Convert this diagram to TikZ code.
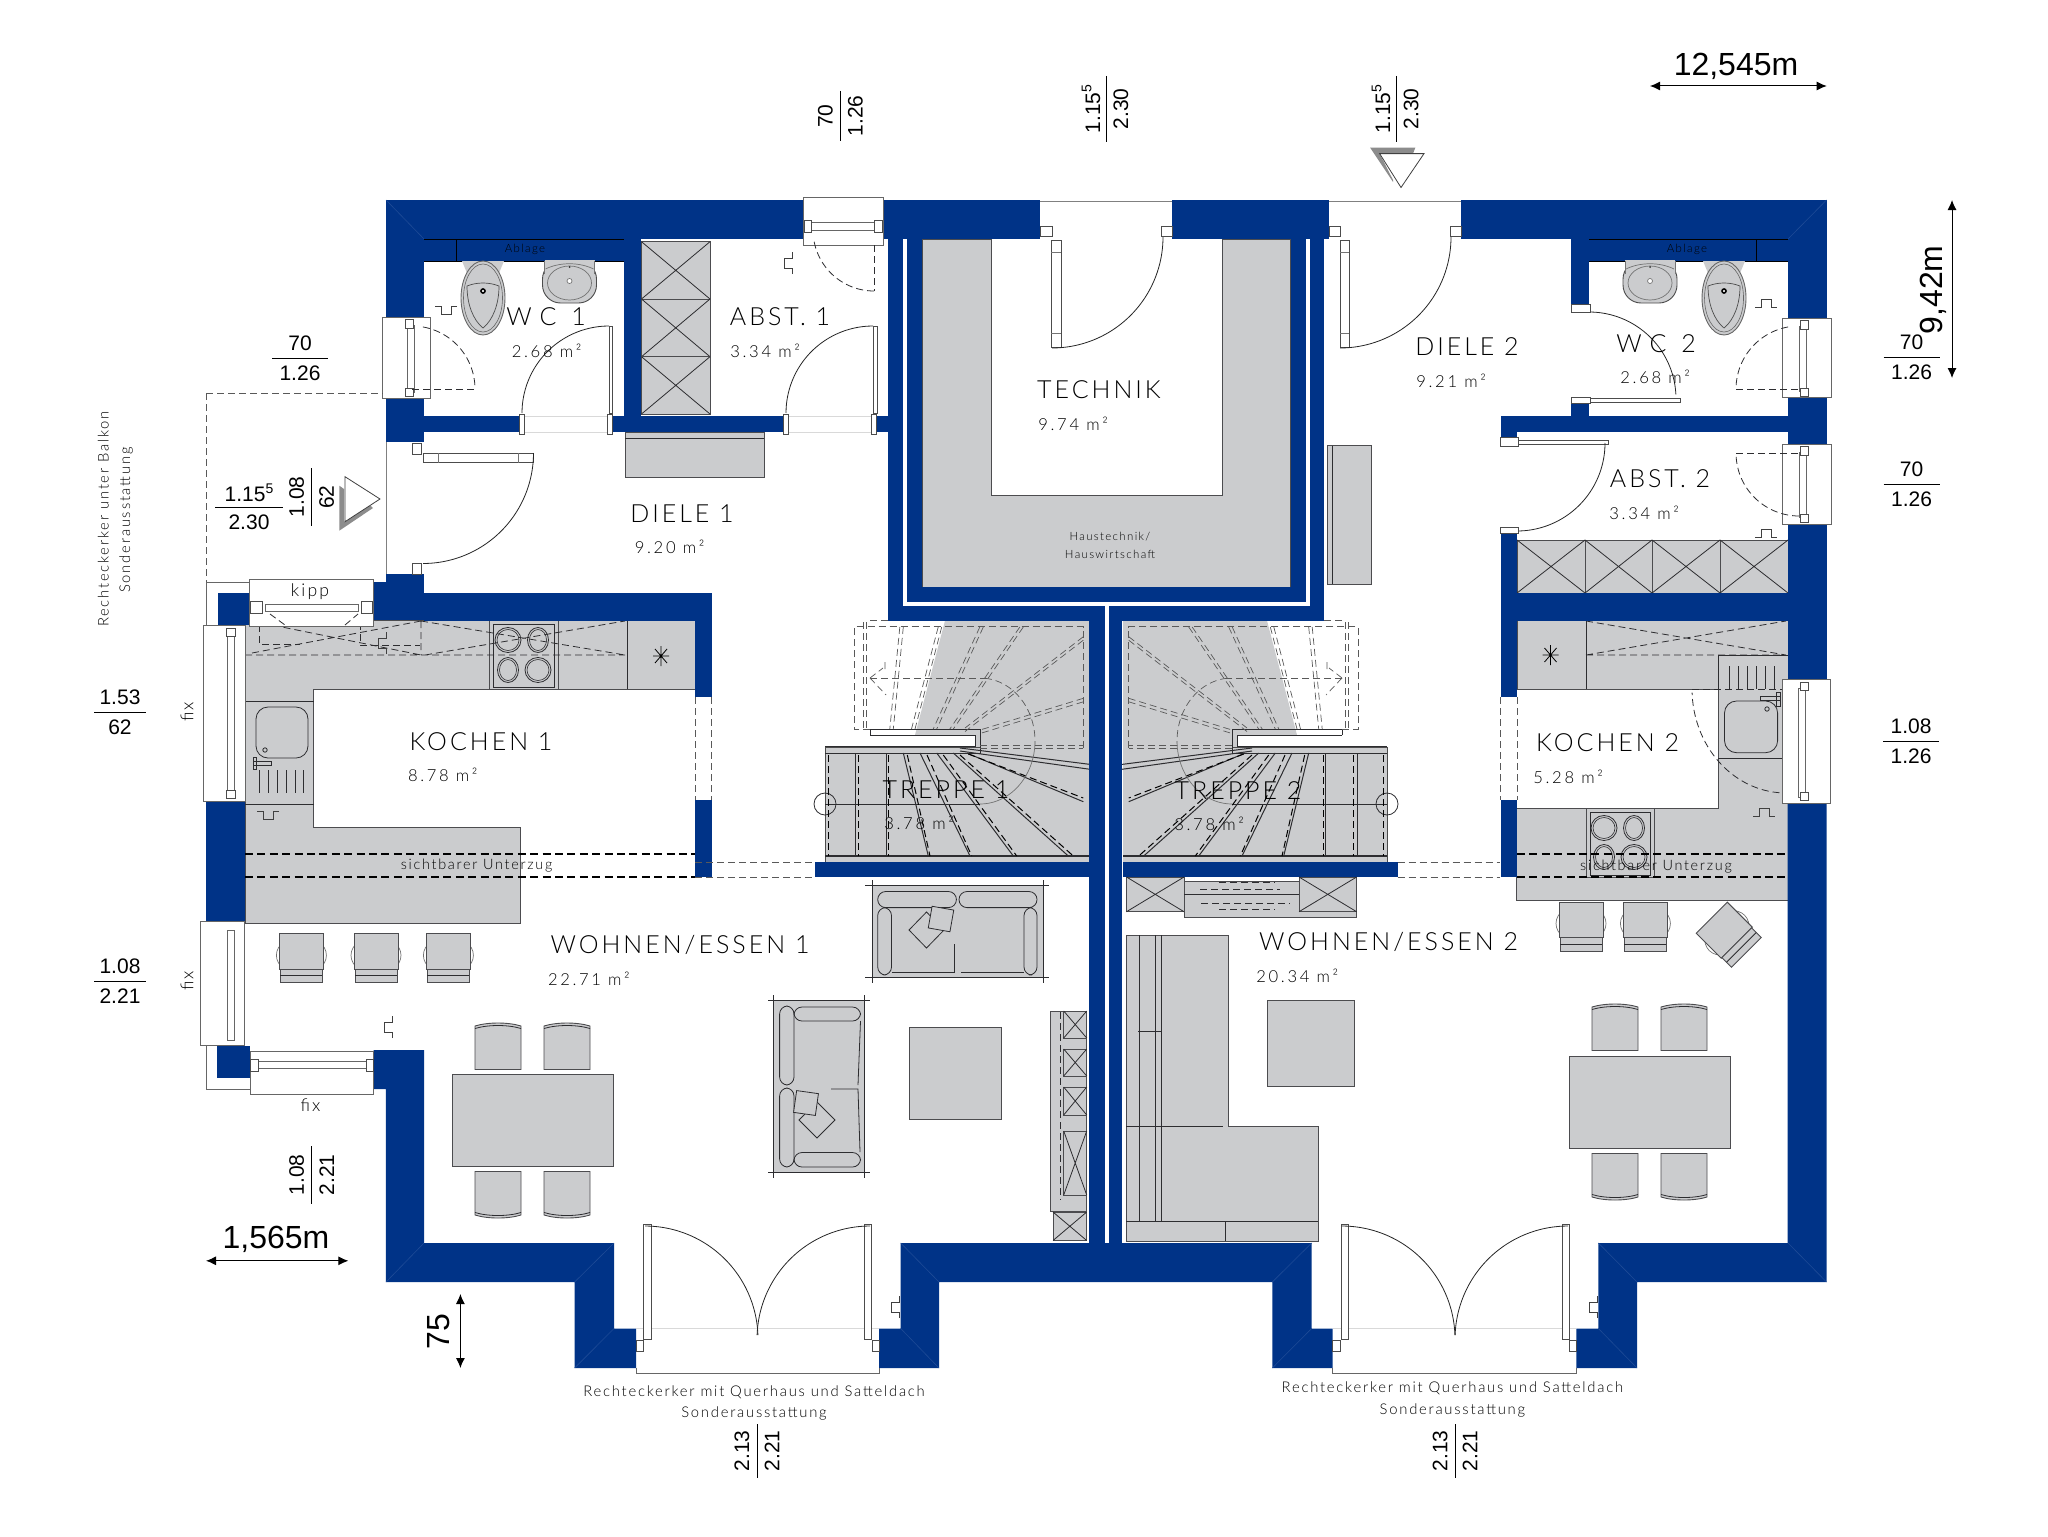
\documentclass[tikz,border=0pt]{standalone}
\usepackage{fontspec}
\usetikzlibrary{arrows.meta}
\setmainfont{Liberation Sans}
\newfontfamily\roomf[LetterSpace=12,UprightFont=* Light]{Lato}
\newfontfamily\roomw[LetterSpace=32,UprightFont=* Light]{Lato}
\newfontfamily\areaf[LetterSpace=16,UprightFont=* Light]{Lato}
\newfontfamily\smallf[LetterSpace=12,UprightFont=* Light]{Lato}
\definecolor{wallblue}{RGB}{0,51,135}
\definecolor{miterblue}{RGB}{30,75,150}
\definecolor{furn}{RGB}{203,204,206}
\definecolor{ink}{RGB}{45,45,48}
\tikzset{
 wall/.style={fill=wallblue,draw=none},
 miterl/.style={draw=miterblue,line width=.3pt},
 gr/.style={fill=furn,draw=ink!85,line width=.45pt},
 ln/.style={draw=ink,line width=.4pt},
 thin2/.style={draw=black!55,line width=.35pt},
 dsh/.style={draw=ink,line width=.4pt,dash pattern=on 3.5pt off 2pt},
 uzug/.style={draw=black,line width=.65pt,dash pattern=on 4pt off 2.2pt},
 dshthin/.style={draw=black!65,line width=.35pt,dash pattern=on 3.5pt off 2pt},
 winb/.style={fill=white,draw=black!60,line width=.35pt},
 leaf/.style={fill=white,draw=black!70,line width=.35pt},
 swing/.style={draw=black!85,line width=.4pt},
 room/.style={font=\roomf\fontsize{12.5}{15}\selectfont,text=black,inner sep=0pt},
 roomwide/.style={font=\roomw\fontsize{12.5}{15}\selectfont,text=black,inner sep=0pt},
 area/.style={font=\areaf\fontsize{8.3}{10}\selectfont,text=black,inner sep=0pt,anchor=west},
 smallt/.style={font=\smallf\fontsize{5.7}{7}\selectfont,text=black,inner sep=0pt},
 unter/.style={font=\smallf\fontsize{7.2}{8.5}\selectfont,text=black,inner sep=0pt},
 hint/.style={font=\smallf\fontsize{8.8}{10}\selectfont,text=black,inner sep=0pt},
 note/.style={font=\smallf\fontsize{7.4}{9}\selectfont,text=black,inner sep=0pt},
 dimt/.style={font=\fontsize{10.5}{12}\selectfont,inner sep=0pt},
 bigt/.style={font=\fontsize{16}{18}\selectfont,inner sep=0pt},
 dimline/.style={draw=black,line width=.45pt},
 dimarrow/.style={draw=black,line width=.5pt,{Latex[length=5pt,width=4.5pt]}-{Latex[length=5pt,width=4.5pt]}}
}
\newcommand\wl[4]{\fill[wall] (#1,#2) rectangle (#3,#4);}
\newcommand\xbox[4]{\draw[gr] (#1,#2) rectangle (#3,#4); \draw[ln] (#1,#2) -- (#3,#4) (#3,#2) -- (#1,#4);}
\newcommand\arcp[6][swing]{\draw[#1] plot[domain=#5:#6,samples=28,smooth] ({#2+#4*cos(\x)},{#3+#4*sin(\x)});}
\newcommand\frm[4]{\draw[leaf] (#1,#2) rectangle (#3,#4);}
\newcommand\sw[3]{\begin{scope}[shift={(#1,#2)},rotate=#3]\draw[thin2,draw=black!75] (-11,4) -- (-5,4) -- (-5,-4) -- (5,-4) -- (5,4) -- (11,4);\end{scope}}
\newcommand\dimh[7][15]{\node[dimt] (#2a) at (#3,#4-#1) {#6};\node[dimt] (#2b) at (#3,#4+#1) {#7};\draw[dimline] (#3-#5,#4) -- (#3+#5,#4);}
\newcommand\dimv[7][15]{\node[dimt,rotate=90] (#2a) at (#3-#1,#4) {#6};\node[dimt,rotate=90] (#2b) at (#3+#1,#4) {#7};\draw[dimline] (#3,#4-#5) -- (#3,#4+#5);}
\newcommand\five{1.15\raisebox{.42em}{\fontsize{7}{8}\selectfont 5}}
% dining chair: local box 46x47, back on top; #3 = yscale sign
\newcommand\dchair[3]{\begin{scope}[shift={(#1,#2)},yscale=#3]
 \draw[gr] (-23,23.5) -- (-23,-20) .. controls (-10,-24) and (10,-24) .. (23,-20) -- (23,23.5) -- cycle;
 \draw[ln] (-23,-17.5) .. controls (-10,-21.5) and (10,-21.5) .. (23,-17.5);
\end{scope}}
% bar chair: back at the bottom
\newcommand\bchair[3]{\begin{scope}[shift={(#1,#2)},rotate=#3]
 \draw[thin2] (0,-3) ellipse [x radius=25,y radius=19];
 \draw[gr] (-22,-24.5) rectangle (22,11);
 \draw[gr] (-21,11) rectangle (21,24.5);
 \draw[ln] (-21,17.5) -- (21,17.5);
\end{scope}}
\newcommand\toilet[2]{\begin{scope}[shift={(#1,#2)}]
 \fill[furn] (-21,-37) -- (21,-37) -- (14,-20) -- (-14,-20) -- cycle;
 \draw[gr,draw=black!60] (0,0) ellipse [x radius=22,y radius=37];
 \draw[draw=black!60,line width=.3pt] (0,0) ellipse [x radius=19.5,y radius=34];
 \draw[draw=black!70,line width=.35pt] (-16,-12) .. controls (-6,-16) and (6,-16) .. (16,-12) .. controls (16,6) and (10,22) .. (0,30) .. controls (-10,22) and (-16,6) .. (-16,-12) -- cycle;
 \draw[fill=white,draw=black,line width=.8pt] (0,-7) circle [radius=2];
\end{scope}}
\newcommand\basin[2]{\begin{scope}[shift={(#1,#2)}]
 \draw[gr,draw=black!70,rounded corners=9pt] (-27,-21) -- (27,-21) -- (27,21) -- (-27,21) -- cycle;
 \fill[furn] (-25,-22) rectangle (25,-10);
 \draw[thin2] (-25,-21) -- (-25,-8) (25,-21) -- (25,-8);
 \draw[thin2] (0,1) ellipse [x radius=22,y radius=17];
 \draw[thin2] (-24,-13) .. controls (-10,-20) and (10,-20) .. (24,-13);
 \draw[thin2,fill=white] (0,-1) circle [radius=2.5];
 \fill[black!80] (0,-15) circle [radius=1];
\end{scope}}
\newcommand\cook[8]{% outer x1 y1 x2 y2 then dx,dy centres
 \draw[gr] (#1,#2) rectangle (#3,#4);
 \draw[ln] (#1+4,#2+4) rectangle (#3-4,#4-2);
 \foreach \bx/\by/\br in {#5/#7/13,#6/#7/10.5,#5/#8/10.5,#6/#8/13}{
  \draw[ln] (\bx,\by) ellipse [x radius=\br,y radius=12.5];
  \draw[ln,line width=.3pt] (\bx,\by) ellipse [x radius=\br-2,y radius=10.5];}
}
\newcommand\astk[2]{\draw[black,line width=.4pt] (#1-8,#2) -- (#1+8,#2) (#1,#2-10) -- (#1,#2+10) (#1-6,#2-7) -- (#1+6,#2+7) (#1+6,#2-7) -- (#1-6,#2+7);}
\newcommand\stairs{%
 \fill[furn] (17,747) rectangle (281,862);
 \fill[furn] (17,620.7) -- (161,620.7) -- (191,735) -- (191,747) -- (17,747) -- cycle;
 \draw[thin2,draw=black!70] (281,862) -- (281,747) -- (126,747);
 \draw[ln] (281,753) -- (126,753) -- (126,729.3) -- (236,729.3) -- (236,735);
 \fill[white] (236,735) rectangle (131,746);
 \draw[ln] (236,735) -- (131,735) -- (131,746) -- (281,746);
 \draw[ln,line width=.6pt] (281,856) -- (17,856);
 \foreach \a/\b in {251/251,219.3/219.3,202.7/177.7,186/136,169.3/92.7,152.7/37.7}{\draw[ln,line width=.5pt] (\a,753) -- (\b,856);}
 \draw[ln,line width=.5pt] (139.3,753) -- (22.7,801.7);
 \draw[ln,line width=.5pt] (146,748) -- (11,765) (146,751) -- (11,770) (11,765) -- (11,770);
 \draw[ln] (281,804) -- (126,804);
 \draw[ln] (281,804) circle [radius=11];
 \foreach \a/\b in {277.7/277.7,247.7/247.7,217.7/217.7,198.7/176,179/134.3,162.7/89.3,146/32.7}{\draw[draw=black,line width=.5pt,dash pattern=on 3.5pt off 2pt] (\a,755) -- (\b,856);}
 \draw[draw=black,line width=.5pt,dash pattern=on 3.5pt off 2pt] (137.7,754) -- (22.7,798);
 \draw[dshthin] (236,729) -- (252,729) -- (252,626.7) -- (22.7,626.7) -- (22.7,750);
 \draw[dshthin] (236,620.7) -- (161,620.7);
 \foreach \d in {0,3.5}{
  \draw[dshthin] (239.3+\d,622) -- (239.3+\d,729);
  \draw[dshthin] (202.7+\d,627) -- (212.7+\d,729);
  \draw[dshthin] (164.3+\d,627) -- (191+\d,729);
  \draw[dshthin] (122.7+\d,627) -- (169.3+\d,729);
  \draw[dshthin] (82.7+\d,627) -- (152.7+\d,729);
  \draw[dshthin] (22.7,636.7+\d) -- (141,728+\d);
  \draw[dshthin] (22.7,698.3+\d) -- (126,730+\d);
  \draw[dshthin] (126,745+\d) -- (22.7,745+\d);
 }
 \draw[dshthin] (236,678.3) -- (119.3,678.3);
 \draw[dshthin] plot[domain=-85:5,samples=20,smooth] ({126-55*cos(\x)},{741+63*sin(\x)});
 \draw[thin2] plot[domain=5:90,samples=20,smooth] ({126-55*cos(\x)},{741+63*sin(\x)});
 \draw[dshthin] (221,662) -- (221,669) (236,678) -- (223,668) (236,678) -- (220,695);
}
\begin{document}
\begin{tikzpicture}[x=.5pt,y=-.5pt]
\useasboundingbox (0,0) rectangle (2048,1536);
\fill[white] (0,0) rectangle (2048,1536);

% ---------- furniture floor level
\draw[gr] (991,239) -- (922,239) -- (922,587) -- (1290.5,587) -- (1290.5,239) -- (1222,239) -- (1222,495.7) -- (991,495.7) -- cycle;
% sideboards
\draw[gr] (625,432) rectangle (764,477); \draw[ln] (625,438) -- (764,438);
\draw[gr] (1327,445.7) rectangle (1371,584); \draw[ln] (1332.6,445.7) -- (1332.6,584);
% kitchen 1
\draw[gr] (245,620.7) -- (695,620.7) -- (695,689) -- (313.5,689) -- (313.5,827) -- (520,827) -- (520,923) -- (245,923) -- cycle;
\draw[ln] (245,701) -- (313.5,701) (245,804) -- (313.5,804) (627,620.7) -- (627,689);
\draw[ln,rounded corners=6pt] (256,707) rectangle (308,758);
\draw[ln] (265,750) circle [radius=2.2];
\draw[ln] (253,761) rectangle (271,765) (253,757) rectangle (256,769);
\foreach \x in {259,268,277,286,295,303}{\draw[ln] (\x,770) -- (\x,793);}
\cook{489}{620.7}{558}{689}{508}{538}{640}{670}
\astk{661}{656}
\draw[dsh] (245,655) -- (625,655) (421,621) -- (421,655) (252,653) -- (421,621) (262,623) -- (421,655) (421,621) -- (625,655) (425,655) -- (625,621);
\draw[dsh] (259,625) -- (259,644) -- (300,644) (360,612) -- (360,645) -- (420,645);
\sw{382}{643}{90}
\sw{268}{815}{180}
% kitchen 2
\draw[gr] (1517,620.7) -- (1788,620.7) -- (1788,900) -- (1516,900) -- (1516,808) -- (1718,808) -- (1718,689) -- (1517,689) -- cycle;
\draw[ln] (1586,620.7) -- (1586,689) (1718,655) -- (1788,655) (1718,758) -- (1788,758) (1718,655) -- (1718,689);
\draw[ln,rounded corners=6pt] (1724.5,701) rectangle (1777.6,752.7);
\draw[ln] (1767,709) circle [radius=2.2];
\draw[ln] (1760,696) rectangle (1780,700) (1776,692) rectangle (1780,706);
\foreach \x in {1729,1738,1747,1756,1765,1774}{\draw[ln] (\x,666) -- (\x,689);}
\cook{1586}{808}{1654.6}{877}{1604}{1634}{828}{857}
\astk{1550.5}{655}
\draw[dsh] (1586,655) -- (1786,655) (1586,655) -- (1786,621) (1586,621) -- (1786,655);
\draw[dsh] (1692,689) -- (1782,689);
\draw[dsh] plot[domain=94:178,samples=20,smooth] ({1786+94*cos(\x)},{689+104*sin(\x)});
\sw{1764}{812}{0}
% storage 1
\draw[gr] (641.5,241.7) rectangle (710,414);
\xbox{641.5}{241.7}{710}{299}
\xbox{641.5}{299}{710}{356.7}
\xbox{641.5}{356.7}{710}{414}
% storage 2
\xbox{1517}{540}{1585}{593}
\xbox{1585}{540}{1652}{593}
\xbox{1652}{540}{1720}{593}
\xbox{1720}{540}{1788}{593}
% stairs
\begin{scope}[shift={(1106,0)},xscale=-1]\stairs\end{scope}
\begin{scope}[shift={(1106,0)}]\stairs\end{scope}

% ---------- walls
\wl{386}{200}{803}{239}\wl{883}{200}{1040}{239}\wl{1172}{200}{1329}{239}\wl{1461}{200}{1826.5}{239}
\wl{386}{200}{424}{318}\wl{386}{398}{424}{442}
\wl{386}{574}{424}{620}\wl{373}{582}{386}{620}\wl{424}{593}{711.6}{620.7}
\wl{695}{620}{711.6}{697}\wl{695}{800}{711.6}{877}
\wl{217.7}{593}{250}{625}\wl{250}{593}{373}{620}
\wl{206}{801}{245}{921.3}
\wl{217}{1045.7}{250}{1078}
\fill[wall] (373.7,1050) -- (424.2,1050) -- (424.2,1243) -- (614,1243) -- (614,1328.5) -- (636,1328.5) -- (636,1368) -- (574.6,1368) -- (574.6,1282) -- (385.8,1282) -- (385.8,1089) -- (373.7,1089) -- cycle;
\fill[wall] (900.7,1243) -- (1311.6,1243) -- (1311.6,1328.5) -- (1332.5,1328.5) -- (1332.5,1368) -- (1272.3,1368) -- (1272.3,1282) -- (939,1282) -- (939,1368) -- (879,1368) -- (879,1328.5) -- (900.7,1328.5) -- cycle;
\fill[wall] (1598.4,1243) -- (1787.6,1243) -- (1787.6,803) -- (1826.5,803) -- (1826.5,1282) -- (1637,1282) -- (1637,1368) -- (1576.4,1368) -- (1576.4,1328.5) -- (1598.4,1328.5) -- cycle;
\wl{1788}{200}{1826.5}{318}\wl{1788}{397.5}{1826.5}{444}\wl{1788}{524}{1826.5}{679}
% inner partitions
\wl{624}{239}{640.5}{416}
\wl{424}{416}{522}{432}\wl{609}{416}{785}{432}\wl{873}{416}{888}{432}
\wl{888}{239}{903}{620.7}\wl{906.7}{239}{922}{602}\wl{906.7}{587}{1306}{602}
\wl{1290.5}{239}{1306}{602}\wl{1309.5}{239}{1324}{620.7}
\wl{888}{606.4}{1104.5}{620.7}\wl{1109}{606.4}{1324}{620.7}
\wl{1089}{620}{1104.5}{1243.5}\wl{1109}{620}{1122.3}{1243.5}
\wl{815}{862}{1089}{877}\wl{1123}{862}{1397.5}{877}
\wl{1571}{239}{1589}{304}\wl{1571}{399}{1589}{416}\wl{1501}{416}{1788}{432}
\wl{1501}{432}{1517}{437}\wl{1501}{531.4}{1517}{697}\wl{1500.5}{593}{1788}{620.7}\wl{1500.5}{800}{1517}{877}
% mitres
\draw[miterl] (386,200) -- (424,239) (1826.5,200) -- (1788,239) (386,1282) -- (424,1243) (1826.5,1282) -- (1788,1243)
 (574.6,1368) -- (614,1328.5) (614,1243) -- (574.6,1282) (939,1368) -- (900.7,1328.5) (900.7,1243) -- (939,1282)
 (1272.3,1368) -- (1311.6,1328.5) (1311.6,1243) -- (1272.3,1282) (1637,1368) -- (1598.4,1328.5) (1598.4,1243) -- (1637,1282);
% Ablage
\fill[wall] (424,239) rectangle (624,261);
\draw[black,line width=.35pt] (456.4,239) -- (456.4,261) (424,261) -- (624,261) (424,239) -- (624,239);
\fill[wall] (1589,239) rectangle (1788,261);
\draw[black,line width=.35pt] (1756,239) -- (1756,261) (1589,261) -- (1788,261) (1589,239) -- (1788,239);
\node[smallt] (abl1) at (525,249) {Ablage};
\node[smallt] (abl2) at (1687,249) {Ablage};
% sanitary
\toilet{483}{298}
\basin{569.5}{282}
\toilet{1724}{298}
\basin{1650}{282}

% ---------- faint opening lines
\draw[thin2,draw=black!50] (1040,201) -- (1172,201) (1329,201) -- (1461,201) (386.6,442) -- (386.6,574);
\draw[thin2,draw=black!60] (206,582) -- (373,582) (206,582) -- (206,625) (206,1045.7) -- (206,1089) -- (250,1089);
\draw[thin2,draw=black!60] (636,1368) -- (636,1373.7) -- (879,1373.7) -- (879,1368) (1332.5,1368) -- (1332.5,1373.7) -- (1576.4,1373.7) -- (1576.4,1368);
\draw[draw=black!15,line width=.3pt] (636,1328.5) -- (879,1328.5) (1332.5,1328.5) -- (1576.4,1328.5) (522,416) -- (609,416) (522,432) -- (609,432) (785,416) -- (873,416) (785,432) -- (873,432);

% ---------- windows
\draw[winb] (803,197) rectangle (883,245);
\draw[winb] (811,222.7) rectangle (874,230); \frm{804}{220}{811}{232}\frm{874}{220}{882}{232}
\draw[winb] (382.5,317.7) rectangle (430,398);
\draw[winb] (407.5,325) rectangle (414,392); \frm{405}{319}{413}{328}\frm{405}{388}{413}{396}
\draw[winb] (1782,318) rectangle (1831,397.5);
\draw[winb] (1799,326) rectangle (1806,391); \frm{1800}{320}{1808}{329}\frm{1800}{388}{1808}{396}
\draw[winb] (1782,444) rectangle (1831,524);
\draw[winb] (1799,452) rectangle (1806,517); \frm{1800}{446}{1808}{455}\frm{1800}{514}{1808}{522}
\draw[winb] (249,579) rectangle (373,626);
\draw[winb] (265,604) rectangle (358,611.7); \frm{250}{601}{262}{613}\frm{361}{601}{372}{613}
\draw[winb] (203,625) rectangle (245,801);
\draw[winb] (227,633) rectangle (234,795); \frm{226}{628}{235}{636}\frm{226}{790}{235}{798}
\draw[winb] (200,921.3) rectangle (244.5,1045.7);
\draw[winb] (227,930) rectangle (234,1040);
\draw[winb] (250,1051) rectangle (373.7,1094.3);
\draw[winb] (258,1061.8) rectangle (366,1068.3); \frm{250}{1059}{258}{1071}\frm{366}{1059}{373.7}{1071}
\draw[winb] (1782,679) rectangle (1830,803);
\draw[winb] (1798,688) rectangle (1805,797); \frm{1800}{682}{1808}{690}\frm{1800}{792}{1808}{800}
% window swings
\draw[dsh] (412,389) -- (476,389);
\arcp[dsh]{412}{389}{63}{-80}{0}
\draw[dsh] (874,245) -- (874,291);
\arcp[dsh]{874}{230}{61}{90}{172}
\draw[dsh] (1736,389) -- (1799,389);
\arcp[dsh]{1799}{389}{63}{-100}{-180}
\draw[dsh] (1736,453) -- (1799,453);
\arcp[dsh]{1799}{453}{63}{90}{180}
\draw[dsh] (270,614) -- (285,625) (345,625) -- (358,614);

% ---------- doors
% WC1, ABST1
\draw[leaf] (609,326) rectangle (612.5,413); \arcp{609}{413}{87}{180}{270}
\frm{519}{414}{524}{434}\frm{607}{414}{612}{434}
\draw[leaf] (873,326) rectangle (877,413); \arcp{873}{413}{87}{180}{270}
\frm{783}{414}{788}{434}\frm{871}{414}{876}{434}
% Diele 1
\draw[leaf] (423,453) rectangle (533.5,462.7); \draw[thin2] (438,453) -- (438,462.7) (518,453) -- (518,462.7);
\arcp{423}{453}{110.5}{0}{90}
\frm{412}{443}{421}{454}\frm{412}{563}{421}{574}
% Technik, Diele 2
\draw[leaf] (1051,240) rectangle (1061,347.5); \draw[thin2] (1051,252) -- (1061,252) (1051,333) -- (1061,333);
\arcp{1052}{237}{111}{0}{90}
\frm{1040}{226}{1052}{236}\frm{1161}{226}{1172}{236}
\draw[leaf] (1340,240) rectangle (1349,347.5); \draw[thin2] (1340,252) -- (1349,252) (1340,333) -- (1349,333);
\arcp{1340}{237}{111}{0}{90}
\frm{1329}{226}{1340}{236}\frm{1450}{226}{1461}{236}
% WC 2
\draw[leaf] (1589,398.6) rectangle (1680,402); \arcp{1589}{399}{87}{-90}{-3}
\frm{1571}{304}{1590}{312}\frm{1571}{397}{1590}{403}
% ABST 2
\draw[leaf] (1517,440) rectangle (1608,444); \arcp{1517}{443}{88}{0}{90}
\frm{1500}{437}{1518}{446}\frm{1500}{527}{1518}{533}
% bay 1
\draw[leaf] (643.5,1224.4) rectangle (651,1339); \arcp{645}{1339}{113}{-90}{-2}
\draw[leaf] (864.5,1224.4) rectangle (871.4,1339); \arcp{870}{1339}{113}{-90}{-178}
\frm{636}{1340}{643}{1351}\frm{872}{1340}{879}{1351}
% bay 2
\draw[leaf] (1341,1224.4) rectangle (1348,1339); \arcp{1342}{1339}{113}{-90}{-2}
\draw[leaf] (1562,1224.4) rectangle (1569,1339); \arcp{1568}{1339}{113}{-90}{-178}
\frm{1332.5}{1340}{1340}{1351}\frm{1569}{1340}{1576.4}{1351}
% switches
\sw{788}{263}{90}\sw{446}{310}{180}\sw{388}{1027}{90}\sw{895}{1307}{90}\sw{1593}{1307}{90}\sw{1766}{303}{0}\sw{1766}{533}{0}

% ---------- Unterzug
\draw[uzug] (245,854) -- (695,854) (245,877) -- (695,877);
\draw[uzug] (1517,854) -- (1786,854) (1517,877) -- (1786,877);
\draw[dshthin] (695,862) -- (815,862) (695,877) -- (815,877) (1397.5,862) -- (1500,862) (1397.5,877) -- (1500,877);
\draw[dshthin] (695,697) -- (695,800) (711.6,697) -- (711.6,800) (1500.5,697) -- (1500.5,800) (1517,697) -- (1517,800);

% ---------- living furniture
\foreach \cx in {301.4,376,448.4}{\bchair{\cx}{958.3}{0}}
\bchair{1581}{926.5}{0}
\bchair{1645.4}{926.5}{0}
\bchair{1729}{935}{45}
% dining 1
\draw[gr] (452.3,1074.4) rectangle (613.6,1166.6);
\dchair{498}{1046}{1}\dchair{567}{1046}{1}\dchair{498}{1195}{-1}\dchair{567}{1195}{-1}
% dining 2
\draw[gr] (1569.3,1056) rectangle (1730,1148);
\dchair{1615}{1027}{1}\dchair{1684}{1027}{1}\dchair{1615}{1177}{-1}\dchair{1684}{1177}{-1}
% tables
\draw[gr] (909.9,1027.3) rectangle (1001.7,1119.6);
\draw[gr] (1267.8,1000) rectangle (1354,1086.3);
% sofa top
\draw[gr] (872,885.4) rectangle (1043.6,977.6);
\draw[ln] (865,885.4) -- (1049,885.4) (865,977.6) -- (1049,977.6) (872,880) -- (872,983) (1043.6,880) -- (1043.6,983);
\draw[ln,rounded corners=4pt] (877.7,891.5) rectangle (956.4,907.6);
\draw[ln,rounded corners=4pt] (959,891.5) rectangle (1037,907.6);
\draw[ln,rounded corners=4pt] (877.7,907.6) rectangle (891.5,975);
\draw[ln,rounded corners=4pt] (1024,907.6) rectangle (1037,975);
\draw[ln] (891.5,972) -- (954,972) -- (954,944) (961,972) -- (1024,972);
\draw[ln,fill=furn] (926.5,912) -- (944,930) -- (926.5,948) -- (909,930) -- cycle;
\draw[ln,fill=furn,rotate around={-10:(941,919)}] (930,908) rectangle (952,930);
% sofa side
\draw[gr] (773.8,1000.6) rectangle (864.5,1172.4);
\draw[ln] (768,1000.6) -- (870,1000.6) (768,1172.4) -- (870,1172.4) (773.8,995) -- (773.8,1178) (864.5,995) -- (864.5,1178);
\draw[ln,rounded corners=4pt] (779.6,1006) rectangle (794,1085);
\draw[ln,rounded corners=4pt] (779.6,1088) rectangle (794,1167);
\draw[ln,rounded corners=4pt] (794,1007) rectangle (860.5,1021);
\draw[ln,rounded corners=4pt] (794,1152.5) rectangle (860.5,1167);
\draw[ln] (860.5,1021) -- (858,1085) (831,1089) -- (858,1089) -- (860,1152);
\draw[ln,fill=furn] (817,1102) -- (835,1120) -- (817,1138) -- (799,1120) -- cycle;
\draw[ln,fill=furn,rotate around={-8:(806,1103)}] (795,1092) rectangle (817,1114);
% shelf
\draw[gr] (1050,1011) rectangle (1086,1211);
\xbox{1063.7}{1011}{1086.7}{1038}
\xbox{1063.7}{1049}{1086.7}{1076}
\xbox{1063.7}{1087}{1086.7}{1115}
\xbox{1063.7}{1131}{1086.7}{1195}
\xbox{1053}{1212}{1086.7}{1240.5}
\draw[dsh] (1060,1012) -- (1060,1200);
% TV
\xbox{1126.5}{877}{1184}{911.7}
\draw[gr] (1184,881.7) rectangle (1356.6,917.7);
\xbox{1299}{877}{1356.6}{911.7}
\draw[ln] (1184,894) -- (1299,894);
\draw[dsh] (1200,889) -- (1280,889) (1201,903) -- (1290,903) (1219,909) -- (1275,909) (1219,882) -- (1275,882);
% sofa L
\draw[gr] (1126,935) -- (1228,935) -- (1228,1126.8) -- (1318,1126.8) -- (1318,1241.3) -- (1126,1241.3) -- cycle;
\draw[ln] (1139.7,935) -- (1139.7,1221.7) (1155,935) -- (1155,1221.7) (1161,935) -- (1161,1221.7) (1126,1221.7) -- (1318,1221.7) (1225.4,1221.7) -- (1225.4,1241.3) (1126,1126.8) -- (1223,1126.8) (1138,1031) -- (1161,1031);

% ---------- room labels
\node[roomwide] (r1) at (546,317) {WC 1};
\node[area] (a1) at (511.5,351) {2.68 m²};
\node[room] (r2) at (780,317) {ABST. 1};
\node[area] (a2) at (730,351) {3.34 m²};
\node[room] (r3) at (682,513.6) {DIELE 1};
\node[area] (a3) at (634.5,546.7) {9.20 m²};
\node[room] (r4) at (1099,390) {TECHNIK};
\node[area] (a4) at (1038,424) {9.74 m²};
\node[room] (r5) at (1467,347) {DIELE 2};
\node[area] (a5) at (1416,380.7) {9.21 m²};
\node[roomwide] (r6) at (1656,344) {WC 2};
\node[area] (a6) at (1620,377) {2.68 m²};
\node[room] (r7) at (1660,479) {ABST. 2};
\node[area] (a7) at (1609,513) {3.34 m²};
\node[room] (r8) at (481,742) {KOCHEN 1};
\node[area] (a8) at (407.6,775) {8.78 m²};
\node[room] (r9) at (1607.6,743) {KOCHEN 2};
\node[area] (a9) at (1533,776.6) {5.28 m²};
\node[room] (r10) at (946,790) {TREPPE 1};
\node[area] (a10) at (884,823) {3.78 m²};
\node[room] (r11) at (1238,791) {TREPPE 2};
\node[area] (a11) at (1174,824) {3.78 m²};
\node[room] (r12) at (680,945) {WOHNEN/ESSEN 1};
\node[area] (a12) at (547.6,978.7) {22.71 m²};
\node[room] (r13) at (1388.6,942) {WOHNEN/ESSEN 2};
\node[area] (a13) at (1256,975.7) {20.34 m²};
\node[smallt] (h1) at (1110,537) {Haustechnik/};
\node[smallt] (h2) at (1110,554) {Hauswirtschaft};
\node[unter] (u1) at (476.6,866) {sichtbarer Unterzug};
\node[unter] (u2) at (1656,866.7) {sichtbarer Unterzug};
\node[hint] (k1) at (310,591.7) {kipp};
\node[hint] (f1) at (310.5,1105) {fix};
\node[hint,rotate=90] (f2) at (187,712) {fix};
\node[hint,rotate=90] (f3) at (187,981) {fix};
\node[note] (b1) at (754,1392) {Rechteckerker mit Querhaus und Satteldach};
\node[note] (b2) at (754,1413.5) {Sonderausstattung};
\node[note] (b3) at (1452.4,1388) {Rechteckerker mit Querhaus und Satteldach};
\node[note] (b4) at (1452.4,1410) {Sonderausstattung};
\node[note,rotate=90] (b5) at (103.3,519) {Rechteckerker unter Balkon};
\node[note,rotate=90] (b6) at (126,520) {Sonderausstattung};

% ---------- dimensions
\draw[dshthin] (206,393) -- (382.5,393) (206,393) -- (206,582);
\dimh{d1}{300}{358}{28}{70}{1.26}
\dimh{d2}{249}{507.7}{34}{\five}{2.30}
\dimv{d3}{311.7}{497}{29}{1.08}{62}
\dimv{d4}{840.5}{116}{25}{70}{1.26}
\dimv{d5}{1106}{109}{33}{\five}{2.30}
\dimv{d6}{1396}{109}{33}{\five}{2.30}
\dimh{d7}{1911.6}{357.5}{28}{70}{1.26}
\dimh{d8}{1911.6}{484}{28}{70}{1.26}
\dimh{d9}{1911}{741}{28}{1.08}{1.26}
\dimh{d10}{120}{712}{26}{1.53}{62}
\dimh{d11}{120}{981}{26}{1.08}{2.21}
\dimv{d12}{311.7}{1175}{29}{1.08}{2.21}
\dimv{d13}{757}{1451}{27}{2.13}{2.21}
\dimv{d14}{1455}{1451}{27}{2.13}{2.21}
% view triangles
\fill[black!45] (339.3,485.7) -- (339.3,530.7) -- (373,508) -- (370,505) -- (344,522) -- (344,489) -- cycle;
\draw[fill=white,draw=black!75,line width=.4pt] (345,476.7) -- (345,521.7) -- (380,499) -- cycle;
\fill[black!45] (1370,147.5) -- (1415.4,147.5) -- (1413,153.6) -- (1379.6,153.6) -- (1393,180) -- (1393,182) -- cycle;
\draw[fill=white,draw=black!75,line width=.4pt] (1379.6,153.6) -- (1424,153.6) -- (1401,187.5) -- cycle;
% overall sizes
\node[bigt] (s1) at (1736,66) {12,545m};
\coordinate (s1l) at (1650,86); \coordinate (s1r) at (1826.7,86);
\draw[dimarrow] (s1l) -- (s1r);
\node[bigt] (s2) at (276,1239) {1,565m};
\coordinate (s2l) at (206,1260.8); \coordinate (s2r) at (348.4,1260.8);
\draw[dimarrow] (s2l) -- (s2r);
\node[bigt,rotate=90] (s3) at (1933,290) {9,42m};
\coordinate (s3t) at (1952,200); \coordinate (s3b) at (1952,378);
\draw[dimarrow] (s3t) -- (s3b);
\node[bigt,rotate=90] (s4) at (438.6,1331.6) {75};
\coordinate (s4t) at (460.4,1294); \coordinate (s4b) at (460.4,1368);
\draw[dimarrow] (s4t) -- (s4b);
\end{tikzpicture}
\end{document}
